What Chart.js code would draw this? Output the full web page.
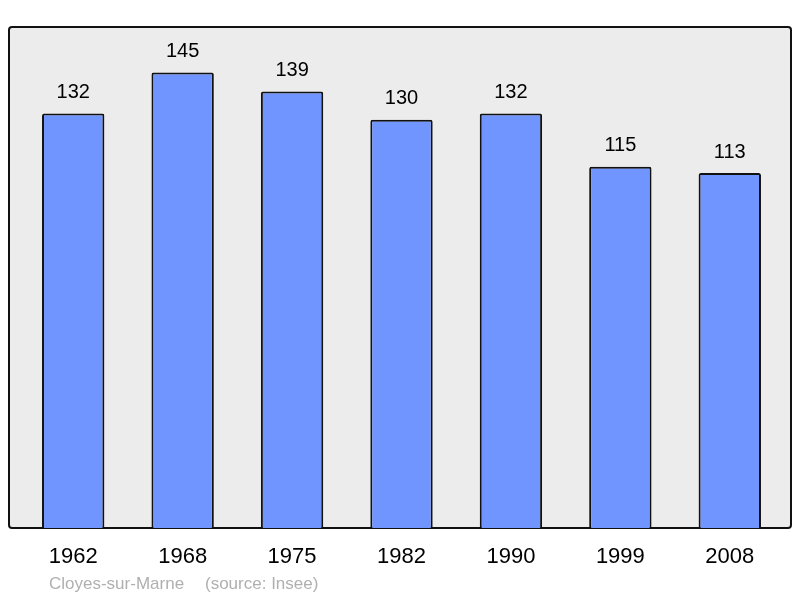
<!DOCTYPE html>
<html>
<head>
<meta charset="utf-8">
<script src="https://cdn.jsdelivr.net/npm/chart.js@4/dist/chart.umd.min.js"></script>
<style>
  body { margin: 0; background: #fff; }
  #graphique { display: block; }
</style>
</head>
<body>
<canvas id="graphique" width="800" height="598"></canvas>
<script>
const annees = ['1962', '1968', '1975', '1982', '1990', '1999', '2008'];
const population = [132, 145, 139, 130, 132, 115, 113];
const commune = 'Cloyes-sur-Marne';
const source = '(source: Insee)';

// fond gris + cadre autour de la zone du graphique
const cadre = {
    id: 'cadre',
    beforeDraw(chart) {
        const ctx = chart.ctx;
        const a = chart.chartArea;
        const x = a.left - 9.5, y = a.top, w = a.right - a.left + 16, h = a.bottom - a.top;
        ctx.save();
        ctx.beginPath();
        ctx.roundRect(x, y, w, h, 3);
        ctx.fillStyle = '#ececec';
        ctx.fill();
        ctx.lineWidth = 2;
        ctx.strokeStyle = '#111';
        ctx.stroke();
        ctx.restore();
    }
};

// valeurs au-dessus des barres + légende du bas
const etiquettes = {
    id: 'etiquettes',
    afterDatasetsDraw(chart) {
        const ctx = chart.ctx;
        const meta = chart.getDatasetMeta(0);
        ctx.save();
        ctx.font = '20px "Liberation Sans", Arial, sans-serif';
        ctx.fillStyle = '#000';
        ctx.textAlign = 'center';
        ctx.textBaseline = 'middle';
        meta.data.forEach((barre, i) => {
            ctx.fillText(population[i], barre.x, barre.y - 21);
        });
        ctx.font = '17px "Liberation Sans", Arial, sans-serif';
        ctx.fillStyle = '#b0b0b0';
        ctx.textAlign = 'left';
        ctx.fillText(commune, 49, 584);
        ctx.fillText(source, 205, 584);
        ctx.restore();
    }
};

const graphique = new Chart(document.getElementById('graphique'), {
    type: 'bar',
    data: {
        labels: annees,
        datasets: [{
            data: population,
            backgroundColor: '#7095ff',
            borderColor: '#111',
            borderWidth: 2,
            borderRadius: 2,
            borderSkipped: 'bottom',
            barPercentage: 0.57,
            categoryPercentage: 1
        }]
    },
    options: {
        responsive: false,
        animation: false,
        layout: { padding: { left: 18.5, right: 15.5, top: 27, bottom: 0 } },
        plugins: {
            legend: { display: false },
            tooltip: { enabled: false }
        },
        scales: {
            x: {
                grid: { display: false },
                border: { display: false },
                ticks: {
                    color: '#000',
                    padding: 8,
                    font: { size: 22, family: '"Liberation Sans", Arial, sans-serif' }
                },
                afterFit(axe) { axe.height = 70; }
            },
            y: {
                display: false,
                min: 0,
                max: 159.5
            }
        }
    },
    plugins: [cadre, etiquettes]
});
</script>
</body>
</html>
